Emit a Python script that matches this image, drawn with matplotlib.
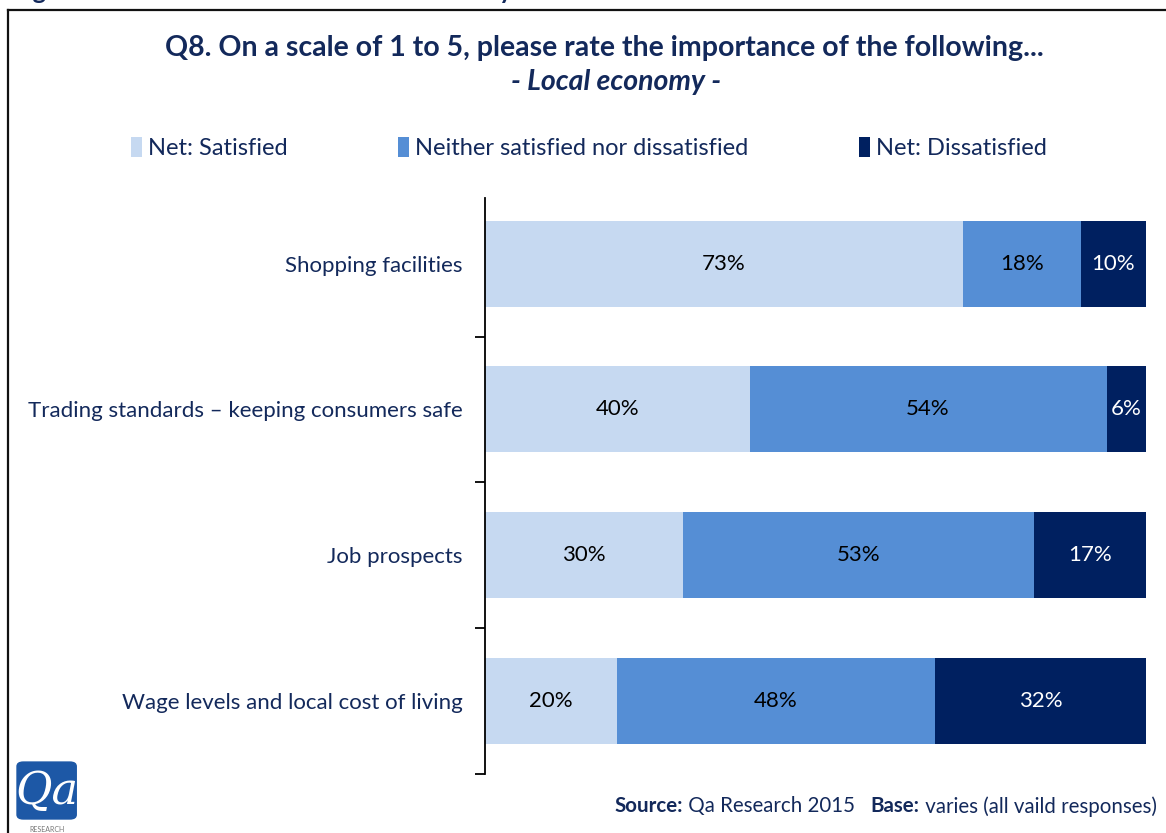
import matplotlib.pyplot as plt
from matplotlib.lines import Line2D
from matplotlib.patches import FancyBboxPatch

plt.rcParams['font.family'] = ['Lato', 'DejaVu Sans']

categories = ['Shopping facilities',
              'Trading standards \u2013 keeping consumers safe',
              'Job prospects',
              'Wage levels and local cost of living']
satisfied = [73, 40, 30, 20]
neither = [18, 54, 53, 48]
dissatisfied = [10, 6, 17, 32]
series_names = ['Net: Satisfied', 'Neither satisfied nor dissatisfied', 'Net: Dissatisfied']

navy = '#13295b'
colours = ['#c6d9f1', '#558ed5', '#002060']
label_colours = ['black', 'black', 'white']

fig = plt.figure(figsize=(11.66, 8.33), dpi=100)
ax = fig.add_axes([0.416, 0.071, 0.567, 0.700])

# 100% stacked bars: each row scaled to its own total
series = [satisfied, neither, dissatisfied]
totals = [sum(v) for v in zip(*series)]
left = [0.0] * len(categories)
ypos = list(range(len(categories)))
bars = []
for vals, col, lcol, name in zip(series, colours, label_colours, series_names):
    widths = [v / t * 100 for v, t in zip(vals, totals)]
    b = ax.barh(ypos, widths, left=left, height=0.59, color=col, label=name)
    bars.append(b)
    for y, l, w, v in zip(ypos, left, widths, vals):
        ax.text(l + w / 2, y, f'{v}%', ha='center', va='center',
                fontsize=16, color=lcol)
    left = [l + w for l, w in zip(left, widths)]

ax.set_xlim(0, 100)
ax.set_ylim(len(categories) - 0.5, -0.5)
ax.set_yticks(ypos)
ax.set_yticklabels(categories, fontsize=16, color=navy)
ax.tick_params(axis='y', which='major', length=0, pad=16)
ax.set_yticks([i + 0.5 for i in ypos], minor=True)
ax.tick_params(axis='y', which='minor', length=7, width=1.3, direction='out')
ax.set_xticks([])
for s in ['top', 'right', 'bottom']:
    ax.spines[s].set_visible(False)
ax.spines['left'].set_linewidth(1.3)
ax.spines['left'].set_bounds(-0.45, len(categories) - 0.5)

fig.legend(handles=bars, loc='center', bbox_to_anchor=(0.505, 0.822), ncol=3,
           frameon=False, fontsize=17, handlelength=0.45, handleheight=0.9,
           handletextpad=0.25, columnspacing=4.7, labelcolor=navy)

fig.text(0.518, 0.942, 'Q8. On a scale of 1 to 5, please rate the importance of the following...',
         ha='center', va='center', fontsize=20.5, fontweight='bold', color=navy)
fig.text(0.528, 0.902, '- Local economy -', ha='center', va='center', fontsize=20.5,
         fontweight='bold', fontstyle='italic', color=navy)

# heading above the frame, only its lower part shows
fig.text(0.010, 1.0015, 'Figure 8: Satisfaction with the local economy',
         ha='left', va='baseline', fontsize=18, fontweight='bold', color=navy)

# frame around the chart
fig.add_artist(Line2D([0.007, 1.0], [0.988, 0.988], color='#111111', lw=1.6))
fig.add_artist(Line2D([0.007, 0.007], [0.0, 0.988], color='#111111', lw=1.6))

# logo
fig.add_artist(FancyBboxPatch((0.014, 0.016), 0.052, 0.070,
                              boxstyle='round,pad=0,rounding_size=0.006',
                              transform=fig.transFigure, facecolor='#1d58a6',
                              edgecolor='none'))
fig.text(0.040, 0.050, 'Qa', ha='center', va='center', fontsize=32, color='white',
         fontstyle='italic', family='DejaVu Serif')
fig.text(0.040, 0.0, 'RESEARCH', ha='center', va='bottom', fontsize=5, color='#777777')

# source line, built from right to left
fig.canvas.draw()
renderer = fig.canvas.get_renderer()
pieces = [('Source:', 'bold'), (' Qa Research 2015   ', 'normal'),
          ('Base:', 'bold'), (' varies (all vaild responses)', 'normal')]
x = 0.992
for txt, weight in reversed(pieces):
    t = fig.text(x, 0.032, txt, ha='right', va='center', fontsize=14.8,
                 fontweight=weight, color=navy)
    bb = t.get_window_extent(renderer)
    x = bb.x0 / fig.bbox.width

fig.savefig('out.png', dpi=100)
